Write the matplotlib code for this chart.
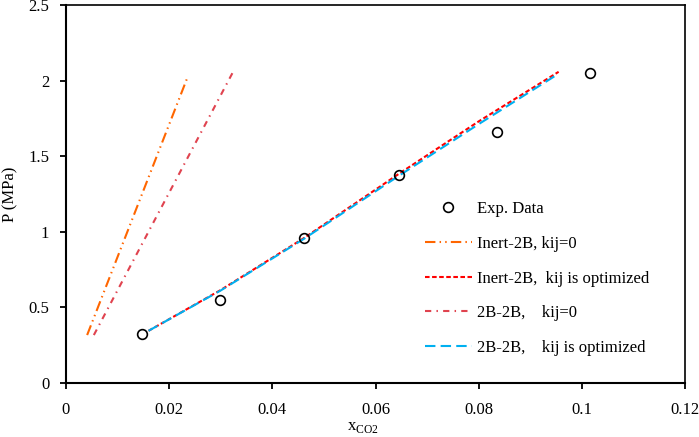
import matplotlib
matplotlib.use("Agg")
from matplotlib import pyplot as plt

plt.rcParams["font.family"] = ["Liberation Serif", "DejaVu Serif"]
plt.rcParams["mathtext.fontset"] = "custom"
plt.rcParams["mathtext.rm"] = "Liberation Serif"

# experimental points
exp_x = [0.0147, 0.0299, 0.0462, 0.0646, 0.0835, 0.1016]
exp_p = [0.322, 0.549, 0.957, 1.376, 1.662, 2.048]

# model curves
inert_k0_x = [0.0041, 0.0234]
inert_k0_p = [0.317, 2.008]

inert_opt_x = [0.0160, 0.0300, 0.0462, 0.0646, 0.0800, 0.0955]
inert_opt_p = [0.345, 0.615, 0.960, 1.385, 1.730, 2.058]

bb_k0_x = [0.0054, 0.0323]
bb_k0_p = [0.317, 2.052]

bb_opt_x = [0.0160, 0.0300, 0.0462, 0.0646, 0.0800, 0.0950]
bb_opt_p = [0.345, 0.612, 0.955, 1.372, 1.712, 2.035]

xticks = [0, 0.02, 0.04, 0.06, 0.08, 0.1, 0.12]
xticklabels = ["0", "0.02", "0.04", "0.06", "0.08", "0.1", "0.12"]
yticks = [0, 0.5, 1, 1.5, 2, 2.5]
yticklabels = ["0", "0.5", "1", "1.5", "2", "2.5"]

fig = plt.figure(figsize=(6.99, 4.37), dpi=100)
ax = fig.add_axes([0.0944, 0.1236, 0.8856, 0.865])

ax.plot(exp_x, exp_p, linestyle="none", marker="o", markersize=7,
        markerfacecolor="none", markeredgecolor="black", markeredgewidth=1.2,
        label="Exp. Data", zorder=5)
ax.plot(inert_k0_x, inert_k0_p, color="#FF6600", linewidth=1.5,
        dashes=(5, 2, 0.7, 2, 0.7, 2), label="Inert-2B, kij=0")
ax.plot(inert_opt_x, inert_opt_p, color="#FF0000", linewidth=1.5,
        dashes=(2.2, 1.2), label="Inert-2B,  kij is optimized")
ax.plot(bb_k0_x, bb_k0_p, color="#E0434F", linewidth=1.5,
        dashes=(3, 2.5, 0.7, 2.5), label="2B-2B,    kij=0")
ax.plot(bb_opt_x, bb_opt_p, color="#00B0F0", linewidth=1.5,
        dashes=(5, 2.5), label="2B-2B,    kij is optimized")

ax.set_xlim(0, 0.12)
ax.set_ylim(0, 2.5)
ax.set_xticks(xticks)
ax.set_xticklabels(xticklabels)
ax.set_yticks(yticks)
ax.set_yticklabels(yticklabels)
ax.tick_params(axis="x", direction="out", length=4, width=1.3, pad=10, labelsize=12)
ax.tick_params(axis="y", direction="out", length=4, width=1.3, pad=8, labelsize=12)
for side in ["left", "bottom"]:
    ax.spines[side].set_linewidth(1.5)
for side in ["top", "right"]:
    ax.spines[side].set_linewidth(1.2)

ax.set_xlabel(r"x$_{\mathrm{CO2}}$", fontsize=12)
ax.xaxis.set_label_coords(0.48, -0.116, transform=ax.transAxes)
ax.xaxis.label.set_va("center")
ax.set_ylabel("P (MPa)", fontsize=12)
ax.yaxis.set_label_coords(-0.09, 0.5, transform=ax.transAxes)
ax.yaxis.label.set_va("center")

ax.legend(loc="center left", bbox_to_anchor=(0.58, 0.276), frameon=False,
          fontsize=12, handlelength=2.8, handletextpad=0.3, labelspacing=1.12,
          borderpad=0, borderaxespad=0)

plt.savefig("out.png", dpi=100)
